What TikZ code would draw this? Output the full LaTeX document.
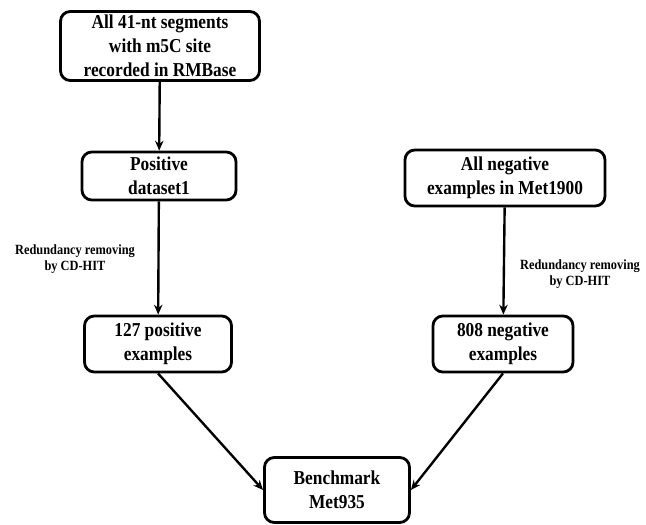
\documentclass[tikz,border=0pt]{standalone}
\usepackage{fontspec}
\setmainfont{Liberation Serif}[FakeStretch=0.88]
\usetikzlibrary{arrows.meta}

\tikzset{
  stage/.style={draw, line width=2pt, rounded corners=7pt, align=center,
    inner sep=0pt, font=\fontsize{14}{17}\selectfont\bfseries},
  note/.style={align=center, inner sep=0pt, font=\fontsize{10}{11.5}\selectfont\bfseries},
  flow/.style={line width=1.7pt, -{Stealth[length=7pt,width=6pt]}}
}

\begin{document}
\begin{tikzpicture}[x=0.025cm, y=-0.025cm]
      \useasboundingbox (0,0) rectangle (646,525);

      % boxes
      \node[stage, minimum width=4.975cm, minimum height=1.725cm] (all) at (160,46)
        {All 41-nt segments\\with m5C site\\recorded in RMBase};
      \node[stage, minimum width=3.85cm, minimum height=1.2cm] (pos) at (159,176)
        {Positive\\dataset1};
      \node[stage, minimum width=5cm, minimum height=1.4cm] (neg) at (505,178)
        {All negative\\examples in Met1900};
      \node[stage, minimum width=3.675cm, minimum height=1.4cm] (pos127) at (158,344)
        {127 positive\\examples};
      \node[stage, minimum width=3.5cm, minimum height=1.4cm] (neg808) at (503,344)
        {808 negative\\examples};
      \node[stage, minimum width=3.625cm, minimum height=1.625cm] (bench) at (337,490)
        {Benchmark\\Met935};

      % labels
      \node[note] (cdhitL) at (75,259) {Redundancy removing\\by CD-HIT};
      \node[note] (cdhitR) at (580,274) {Redundancy removing\\by CD-HIT};

      \draw[flow] (all) -- (pos);
      \draw[flow] (pos) -- (pos127);
      \draw[flow] (neg) -- (neg808);
      \draw[flow] (pos127.south) -- (bench.west);
      \draw[flow] (neg808.south) -- (bench.east);
    \end{tikzpicture}
\end{document}
